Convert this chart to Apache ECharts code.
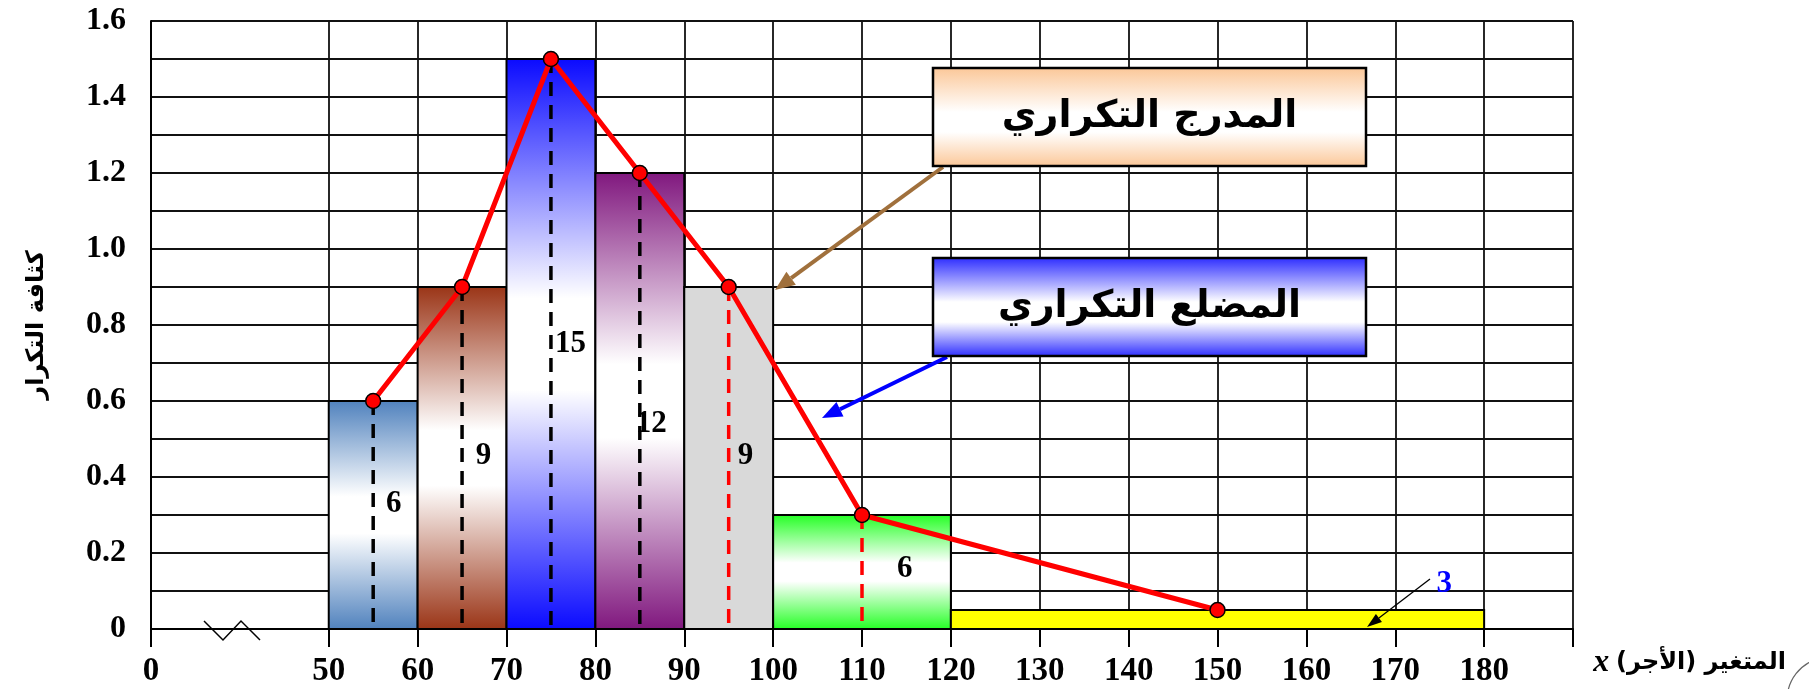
<!DOCTYPE html>
<html>
<head>
<meta charset="utf-8">
<script src="https://cdn.jsdelivr.net/npm/echarts@6/dist/echarts.min.js"></script>
<style>
  html, body { margin: 0; padding: 0; background: #fff; }
  #chart { width: 1809px; height: 689px; }
</style>
</head>
<body>
<div id="chart"></div>
<script>
// Wage classes (الأجر), their frequencies and frequency densities
const classStart = [50, 60, 70, 80, 90, 100, 120];
const classEnd   = [60, 70, 80, 90, 100, 120, 180];
const classMid   = [55, 65, 75, 85, 95, 110, 150];
const frequency  = [6, 9, 15, 12, 9, 6, 3];
const density    = [0.6, 0.9, 1.5, 1.2, 0.9, 0.3, 0.05];

// Tick labels
const xTickLabels = ['0', '50', '60', '70', '80', '90', '100', '110', '120', '130', '140', '150', '160', '170', '180'];
const yTickLabels = ['0', '0.2', '0.4', '0.6', '0.8', '1.0', '1.2', '1.4', '1.6'];

// Text
const yTitle = 'كثافة التكرار';
const histTitle = 'المدرج التكراري';
const polyTitle = 'المضلع التكراري';

// ---- layout & styling ----
// The 0–50 stretch of the axis is cut: "0" sits two grid steps left of 50.
const X_BREAK_POS = 30;
const X_MAX = 190;
const xTickValues = xTickLabels.map(l => (l === '0' ? X_BREAK_POS : Number(l)));

const G = echarts.graphic;
function band(c) {
  return new G.LinearGradient(0, 0, 0, 1, [
    { offset: 0, color: c }, { offset: 0.42, color: '#ffffff' },
    { offset: 0.58, color: '#ffffff' }, { offset: 1, color: c }
  ]);
}
const barFill = [band('#4f81bd'), band('#9a3416'), band('#0a0aff'), band('#80177e'), '#d9d9d9', band('#22ff22'), '#ffff00'];
const guideColor = ['#000', '#000', '#000', '#000', '#ff0000', '#ff0000', null];
// where each frequency is written (data coordinates)
const freqLabelSpot = [[57.3, 0.33], [67.4, 0.455], [77.2, 0.75], [86.3, 0.54], [96.9, 0.455], [114.8, 0.158], [175.5, 0.118]];
const freqLabelColor = ['#000', '#000', '#000', '#000', '#000', '#000', '#0000ff'];

const SERIF = '"Liberation Serif", "Times New Roman", serif';
const ARABIC = '"DejaVu Sans", sans-serif';

function arrow(x1, y1, x2, y2, color, w, headL, headW) {
  const a = Math.atan2(y2 - y1, x2 - x1);
  const bx = x2 - headL * Math.cos(a), by = y2 - headL * Math.sin(a);
  const nx = -Math.sin(a) * headW / 2, ny = Math.cos(a) * headW / 2;
  return [
    { type: 'line', z: 20, shape: { x1, y1, x2: bx, y2: by }, style: { stroke: color, lineWidth: w } },
    { type: 'polygon', z: 20, shape: { points: [[x2, y2], [bx + nx, by + ny], [bx - nx, by - ny]] }, style: { fill: color } }
  ];
}

function titleBox(x, y, w, h, edge, text) {
  return [
    {
      type: 'rect', z: 30, shape: { x, y, width: w, height: h },
      style: {
        fill: new G.LinearGradient(0, 0, 0, 1, [
          { offset: 0, color: edge }, { offset: 0.45, color: '#ffffff' },
          { offset: 0.65, color: '#ffffff' }, { offset: 1, color: edge }
        ]),
        stroke: '#000', lineWidth: 2.5
      }
    },
    {
      type: 'text', z: 31, x: x + w / 2, y: y + h / 2,
      style: { text, fill: '#000', font: 'bold 38px ' + ARABIC, align: 'center', verticalAlign: 'middle' }
    }
  ];
}

const chart = echarts.init(document.getElementById('chart'), null, { renderer: 'canvas' });

const option = {
  animation: false,
  backgroundColor: '#fff',
  grid: { left: 151, right: 1809 - 1573, top: 21, bottom: 689 - 629, containLabel: false },
  xAxis: {
    type: 'value', min: X_BREAK_POS, max: X_MAX, interval: 10,
    axisLine: { show: true, onZero: false, lineStyle: { color: '#000', width: 2 } },
    axisTick: { show: true, length: 18, customValues: xTickValues.concat([X_MAX]), lineStyle: { color: '#000', width: 2 } },
    axisLabel: {
      customValues: xTickValues, margin: 26,
      fontFamily: SERIF, fontWeight: 'bold', fontSize: 33, color: '#000',
      formatter: v => (v === X_BREAK_POS ? '0' : String(v))
    },
    splitLine: { show: true, lineStyle: { color: '#111', width: 1.8 } }
  },
  yAxis: {
    type: 'value', min: 0, max: 1.6, interval: 0.1,
    name: yTitle, nameLocation: 'middle', nameRotate: 90, nameGap: 102,
    nameTextStyle: { fontFamily: ARABIC, fontWeight: 'bold', fontSize: 24, color: '#000' },
    axisLine: { show: true, lineStyle: { color: '#000', width: 2 } },
    axisTick: { show: false },
    axisLabel: {
      margin: 25, fontFamily: SERIF, fontWeight: 'bold', fontSize: 32, color: '#000',
      formatter: v => yTickLabels.find(l => Math.abs(Number(l) - v) < 1e-6) || ''
    },
    splitLine: { show: true, lineStyle: { color: '#111', width: 1.8 } }
  },
  series: [
    {
      // histogram rectangles
      type: 'custom', z: 2,
      data: classStart.map((s, i) => [s, classEnd[i], density[i]]),
      encode: { x: [0, 1], y: 2 },
      renderItem(params, api) {
        const i = params.dataIndex;
        const tl = api.coord([api.value(0), api.value(2)]);
        const br = api.coord([api.value(1), 0]);
        return {
          type: 'rect',
          shape: { x: tl[0], y: tl[1], width: br[0] - tl[0], height: br[1] - tl[1] },
          style: { fill: barFill[i], stroke: '#000', lineWidth: 2 }
        };
      }
    },
    {
      // dashed mid-class guides and frequency labels
      type: 'custom', z: 3,
      data: classMid.map((m, i) => [m, density[i], frequency[i]]),
      encode: { x: 0, y: 1 },
      renderItem(params, api) {
        const i = params.dataIndex;
        const top = api.coord([api.value(0), api.value(1)]);
        const bottom = api.coord([api.value(0), 0]);
        const spot = api.coord(freqLabelSpot[i]);
        const children = [];
        if (guideColor[i]) {
          children.push({
            type: 'line',
            shape: { x1: top[0], y1: top[1], x2: bottom[0], y2: bottom[1] - 4 },
            style: { stroke: guideColor[i], lineWidth: 3.5, lineDash: [14, 9] }
          });
        }
        children.push({
          type: 'text', z2: 10,
          style: {
            text: String(api.value(2)), x: spot[0], y: spot[1],
            fill: freqLabelColor[i], font: 'bold 31px ' + SERIF,
            align: 'center', verticalAlign: 'middle'
          }
        });
        return { type: 'group', children };
      }
    },
    {
      // frequency polygon
      type: 'line', z: 5,
      data: classMid.map((m, i) => [m, density[i]]),
      symbol: 'circle', symbolSize: 15,
      lineStyle: { color: '#ff0000', width: 5 },
      itemStyle: { color: '#ff0000', borderColor: '#000', borderWidth: 1.5 }
    }
  ],
  graphic: [
    // axis cut mark
    { type: 'polyline', z: 20, shape: { points: [[204, 621], [223, 640], [241, 621], [260, 640]] }, style: { stroke: '#000', lineWidth: 1.5, fill: null } },
    ...arrow(943, 167, 775, 290, '#a0703c', 4, 20, 16),
    ...arrow(947, 357, 822, 418, '#0000ff', 4, 20, 16),
    ...arrow(1430, 579, 1367, 627, '#000', 1.3, 15, 10),
    ...titleBox(933, 68, 433, 98, '#fbc696', histTitle),
    ...titleBox(933, 258, 433, 98, '#2a2aff', polyTitle),
    {
      type: 'text', z: 20, x: 1786, y: 663,
      style: {
        text: '{x|x}  {a|المتغير (الأجر)\u200F}',
        align: 'right', verticalAlign: 'middle',
        rich: {
          x: { font: 'italic bold 32px ' + SERIF, fill: '#000' },
          a: { font: 'bold 24px ' + ARABIC, fill: '#000' }
        }
      }
    },
    { type: 'arc', z: 20, shape: { cx: 1830, cy: 700, r: 43, startAngle: Math.PI * 1.04, endAngle: Math.PI * 1.38 }, style: { stroke: '#666', lineWidth: 1.2, fill: null } }
  ]
};

chart.setOption(option);
</script>
</body>
</html>
